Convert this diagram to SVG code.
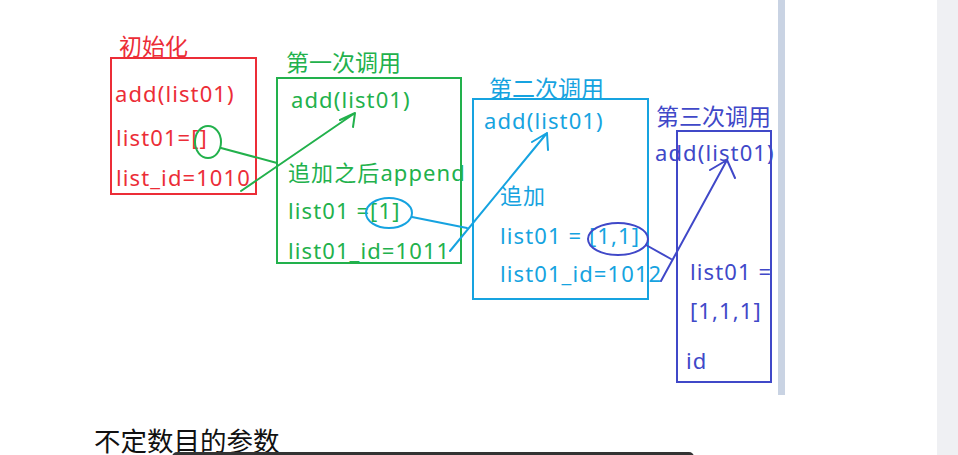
<svg xmlns="http://www.w3.org/2000/svg" width="958" height="455" viewBox="0 0 958 455">
<style>
text{font-family:"Noto Sans","Noto Sans CJK SC",sans-serif;}
.lbl{font-size:23px;font-family:"Noto Sans CJK SC",sans-serif;}
.t{font-size:22px;letter-spacing:1.1px;}
.box{fill:none;stroke-width:2;}
.ln{fill:none;stroke-width:2;stroke-linecap:round;stroke-linejoin:round;}
.red{fill:#ec2d37;} .green{fill:#22b14c;} .blue{fill:#16a3e0;} .purple{fill:#4048c8;}
</style>
<rect x="0" y="0" width="958" height="455" fill="#ffffff"/>
<rect x="778" y="0" width="7" height="395" fill="#c9d3e3"/>
<rect x="937" y="0" width="21" height="455" fill="#eff0f3"/>
<g id="init">
<text class="lbl red" x="119" y="55">初始化</text>
<rect class="box" x="111" y="58" width="145" height="136" stroke="#ec2d37"/>
<text class="t red" x="115" y="102">add(list01)</text>
<text class="t red" x="116" y="146">list01=[]</text>
<text class="t red" x="116" y="186">list_id=1010</text>
</g>
<g id="call1">
<text class="lbl green" x="286" y="71">第一次调用</text>
<rect class="box" x="277" y="78" width="184" height="185" stroke="#22b14c"/>
<text class="t green" x="291" y="108">add(list01)</text>
<text class="t green" x="288" y="181">追加之后append</text>
<text class="t green" x="288" y="219">list01 =[1]</text>
<text class="t green" x="288" y="259">list01_id=1011</text>
</g>
<g id="call2">
<text class="lbl blue" x="489" y="97">第二次调用</text>
<rect class="box" x="473" y="99" width="175" height="200" stroke="#16a3e0"/>
<text class="t blue" x="484" y="129">add(list01)</text>
<text class="t blue" x="500" y="204">追加</text>
<text class="t blue" x="500" y="244">list01 = [1,1]</text>
<text class="t blue" x="500" y="282">list01_id=1012</text>
</g>
<g id="call3">
<text class="lbl purple" x="656" y="125">第三次调用</text>
<rect class="box" x="677" y="131" width="94" height="251" stroke="#4048c8"/>
<text class="t purple" x="655" y="161">add(list01)</text>
<text class="t purple" x="690" y="280">list01 =</text>
<text class="t purple" x="690" y="319">[1,1,1]</text>
<text class="t purple" x="686" y="369">id</text>
</g>
<g id="connectors">
<ellipse class="ln" cx="208" cy="142" rx="13" ry="16" stroke="#22b14c"/>
<path class="ln" d="M221,148 L277,163" stroke="#22b14c"/>
<path class="ln" d="M241,191 L355,113 M340,120 L355,113 L353,127" stroke="#22b14c"/>
<ellipse class="ln" cx="389" cy="213" rx="23" ry="15" stroke="#16a3e0"/>
<path class="ln" d="M412,217 L467,228" stroke="#16a3e0"/>
<path class="ln" d="M450,251 L547,133 M532,142 L547,133 L548,150" stroke="#16a3e0"/>
<ellipse class="ln" cx="618" cy="239" rx="30" ry="16" stroke="#4048c8"/>
<path class="ln" d="M646,245 L671,259" stroke="#4048c8"/>
<path class="ln" d="M661,281 L727,160 M710,170 L727,160 L735,178" stroke="#4048c8"/>
</g>
<g id="footer">
<text x="94" y="451" font-size="26.5" font-family="Noto Sans CJK SC, sans-serif" fill="#111111">不定数目的参数</text>
<rect x="172" y="452" width="522" height="10" rx="5" fill="#333333"/>
</g>
</svg>
